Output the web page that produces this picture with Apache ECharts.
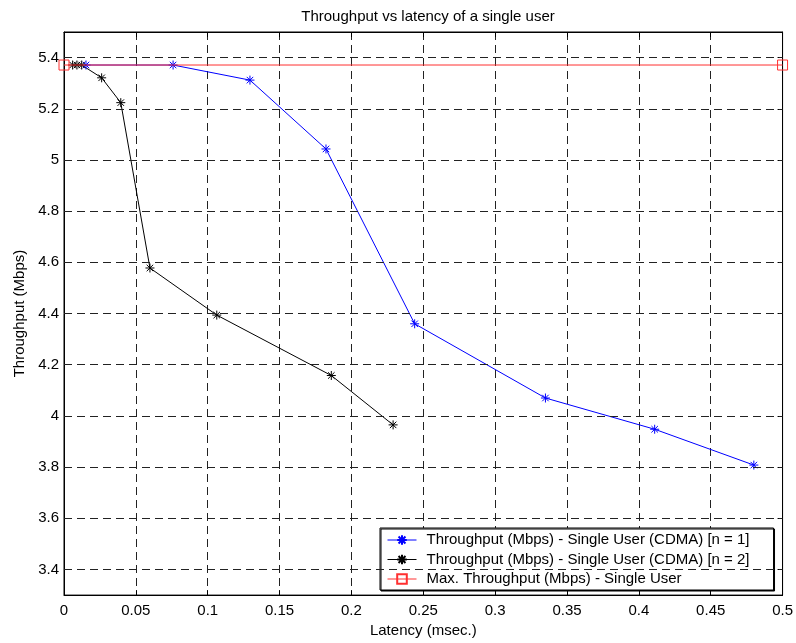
<!DOCTYPE html>
<html>
<head>
<meta charset="utf-8">
<script src="https://cdn.jsdelivr.net/npm/echarts@6/dist/echarts.min.js"></script>
<style>html,body{margin:0;padding:0;background:#fff}#c{width:796px;height:643px}</style>
</head>
<body>
<div id="c"></div>
<script>
// ---- data ----
const latencyN1 = [0.0153, 0.0759, 0.1294, 0.1823, 0.244, 0.335, 0.411, 0.480];
const throughputN1 = [5.371, 5.371, 5.312, 5.043, 4.360, 4.070, 3.948, 3.808];
const latencyN2 = [0.006, 0.009, 0.0123, 0.0262, 0.0395, 0.0598, 0.1063, 0.186, 0.229];
const throughputN2 = [5.371, 5.371, 5.371, 5.321, 5.224, 4.578, 4.394, 4.158, 3.965];
const latencyMax = [0, 0.5];
const throughputMax = [5.371, 5.371];
const yTicks = [3.4, 3.6, 3.8, 4.0, 4.2, 4.4, 4.6, 4.8, 5.0, 5.2, 5.4];
const seriesNames = [
  'Throughput (Mbps) - Single User (CDMA) [n = 1]',
  'Throughput (Mbps) - Single User (CDMA) [n = 2]',
  'Max. Throughput (Mbps) - Single User'
];

const pairs = (xs, ys) => xs.map((x, i) => [x, ys[i]]);
const star = 'path://M0,-1L0,1M-1,0L1,0M-0.72,-0.72L0.72,0.72M-0.72,0.72L0.72,-0.72';
const FONT = 'Liberation Sans, Arial, Helvetica, sans-serif';
const gridDash = { color: '#222', width: 1, type: [8, 5] };

const chart = echarts.init(document.getElementById('c'), null, { renderer: 'canvas' });
chart.setOption({
  animation: false,
  backgroundColor: '#fff',
  textStyle: { fontFamily: FONT, color: '#000' },
  title: {
    text: 'Throughput vs latency of a single user',
    left: 423, top: 4, textAlign: 'center',
    textStyle: { fontFamily: FONT, fontSize: 15, fontWeight: 'normal', color: '#000' }
  },
  grid: { left: 64, top: 32, right: 13, bottom: 44, show: true, borderColor: '#000', borderWidth: 1, containLabel: false },
  legend: {
    orient: 'vertical', left: 380, top: 528,
    padding: [4, 24, 3, 7], itemGap: 3.5, itemWidth: 29, itemHeight: 12,
    backgroundColor: '#fff', borderColor: '#000', borderWidth: 1,
    shadowColor: '#000', shadowOffsetX: 1, shadowOffsetY: 1, shadowBlur: 0,
    lineStyle: { width: 1 },
    textStyle: { fontFamily: FONT, fontSize: 15, color: '#000', lineHeight: 16, padding: [0, 0, 0, 5] },
    data: seriesNames
  },
  xAxis: [{
    type: 'value', min: 0, max: 0.5, interval: 0.05,
    name: 'Latency (msec.)', nameLocation: 'middle', nameGap: 26,
    nameTextStyle: { fontFamily: FONT, fontSize: 15, color: '#000' },
    axisLine: { show: true, onZero: false, lineStyle: { color: '#000' } },
    axisTick: { show: true, inside: true, length: 5, lineStyle: { color: '#000' } },
    axisLabel: { fontFamily: FONT, fontSize: 15, color: '#000', margin: 8 },
    splitLine: { show: true, lineStyle: gridDash }
  }, {
    type: 'value', position: 'top', min: 0, max: 0.5, interval: 0.05,
    axisLine: { show: true, onZero: false, lineStyle: { color: '#000' } },
    axisTick: { show: true, inside: true, length: 5, lineStyle: { color: '#000' } },
    axisLabel: { show: false }, splitLine: { show: false }
  }],
  yAxis: [{
    type: 'value', min: 3.3, max: 5.5,
    name: 'Throughput (Mbps)', nameLocation: 'middle', nameGap: 36,
    nameTextStyle: { fontFamily: FONT, fontSize: 15, color: '#000' },
    axisLine: { show: true, onZero: false, lineStyle: { color: '#000' } },
    axisTick: { show: true, inside: true, length: 5, customValues: yTicks, lineStyle: { color: '#000' } },
    axisLabel: { fontFamily: FONT, fontSize: 15, color: '#000', margin: 5, customValues: yTicks },
    splitLine: { show: false }
  }, {
    type: 'value', position: 'right', min: 3.3, max: 5.5,
    axisLine: { show: true, onZero: false, lineStyle: { color: '#000' } },
    axisTick: { show: true, inside: true, length: 5, customValues: yTicks, lineStyle: { color: '#000' } },
    axisLabel: { show: false }, splitLine: { show: false }
  }],
  series: [
    {
      name: '__grid', type: 'line', data: [], z: 1, silent: true,
      markLine: {
        silent: true, symbol: 'none', label: { show: false },
        lineStyle: gridDash, animation: false,
        data: yTicks.map(v => ({ yAxis: v }))
      }
    },
    {
      name: seriesNames[0], type: 'line', data: pairs(latencyN1, throughputN1), z: 3,
      symbol: star, symbolSize: 9, showAllSymbol: true,
      lineStyle: { color: '#0000ff', width: 1 },
      itemStyle: { color: '#0000ff', borderColor: '#0000ff', borderWidth: 1 }
    },
    {
      name: seriesNames[1], type: 'line', data: pairs(latencyN2, throughputN2), z: 3,
      symbol: star, symbolSize: 9, showAllSymbol: true,
      lineStyle: { color: '#000000', width: 1 },
      itemStyle: { color: '#000000', borderColor: '#000000', borderWidth: 1 }
    },
    {
      name: seriesNames[2], type: 'line', data: pairs(latencyMax, throughputMax), z: 4,
      symbol: 'rect', symbolSize: 10,
      lineStyle: { color: '#ff3030', width: 1 },
      itemStyle: { color: 'rgba(0,0,0,0)', borderColor: '#ff3030', borderWidth: 1 }
    }
  ]
});
</script>
</body>
</html>
